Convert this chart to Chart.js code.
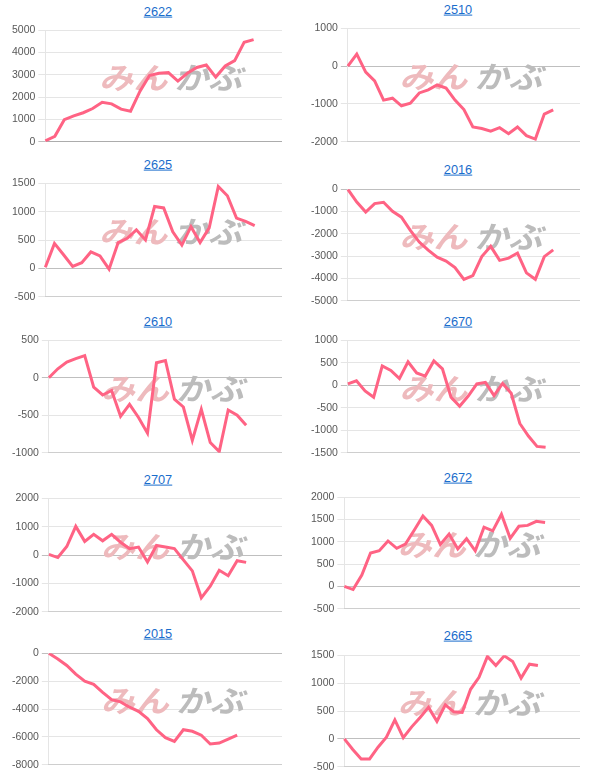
<!DOCTYPE html>
<html><head><meta charset="utf-8">
<script src="https://cdn.jsdelivr.net/npm/chart.js@4/dist/chart.umd.min.js"></script>
<style>
html,body{margin:0;padding:0;background:#fff;width:600px;height:780px;overflow:hidden;}
a.t{position:absolute;font-family:"Liberation Sans",Arial,sans-serif;font-size:12.8px;color:#1a6dcc;text-decoration:underline;transform:translate(-50%,-50%);white-space:nowrap;line-height:1;}
canvas{position:absolute;}
</style></head><body>
<script>
// ---- data ----
const codes = ['2622','2510','2625','2016','2610','2670','2707','2672','2015','2665'];
const v2622 = [40,240,990,1160,1300,1490,1770,1700,1460,1370,2270,2970,3070,3100,2720,3070,3330,3440,2900,3400,3640,4460,4580];
const v2510 = [0,320,-160,-390,-900,-850,-1050,-980,-710,-630,-500,-580,-900,-1150,-1610,-1650,-1720,-1630,-1790,-1610,-1840,-1930,-1270,-1160];
const v2625 = [20,440,240,35,100,290,220,-15,455,530,680,500,1090,1065,645,410,735,455,715,1445,1280,885,830,755];
const v2016 = [0,-570,-1020,-640,-580,-990,-1250,-1840,-2370,-2730,-3050,-3220,-3510,-4040,-3870,-3020,-2560,-3190,-3090,-2860,-3750,-4040,-3020,-2720];
const v2610 = [0,120,210,255,295,-125,-230,-170,-515,-355,-530,-740,200,230,-285,-390,-835,-420,-865,-985,-430,-500,-635];
const v2670 = [30,100,-125,-265,430,330,150,520,275,205,540,365,-265,-465,-240,30,65,-230,40,-180,-850,-1130,-1360,-1380];
const v2707 = [20,-90,300,1010,480,730,500,730,450,220,280,-250,335,280,225,-170,-560,-1510,-1100,-540,-730,-200,-260];
const v2672 = [0,-70,255,750,800,1020,855,950,1260,1580,1370,940,1175,840,1070,800,1330,1245,1620,1080,1350,1370,1460,1435];
const v2015 = [0,-410,-870,-1500,-2000,-2230,-2800,-3330,-3490,-3870,-4170,-4690,-5490,-6060,-6330,-5490,-5600,-5880,-6510,-6450,-6170,-5880];
const v2665 = [0,-190,-360,-360,-150,30,340,20,215,385,565,315,610,485,475,890,1105,1480,1315,1490,1390,1090,1340,1315];
const series = [v2622,v2510,v2625,v2016,v2610,v2670,v2707,v2672,v2015,v2665];
const labelCounts = [26,27,27,27,27,28,27,28,27,29];
const yMin = [0,-2000,-500,-5000,-1000,-1500,-2000,-500,-8000,-500];
const yMax = [5000,1000,1500,0,500,1000,2000,2000,0,1500];
const yStep = [1000,1000,500,1000,500,500,1000,500,2000,500];

// ---- layout (plot area top/bottom, title centre) ----
const plotTop    = [27.3,25,180,186.7,337.3,337.3,495,494.3,650.7,652.3];
const plotBottom = [145,144,299,304.3,456,456,614,611.7,767.7,770];
const titleY     = [11.7,10,165,170,322,322,480,478,634,636];
const colLeft = [9,308], colWidth = [273,272], colTitleX = [158,458];

const watermark = {
  id:'wm',
  beforeDatasetsDraw(chart){
    const {ctx, chartArea:a} = chart;
    const cx = (a.left+a.right)/2 + 10, cy = (a.top+a.bottom)/2 - 8;
    ctx.save();
    ctx.font = 'bold 30px "Noto Sans CJK JP"';
    ctx.textBaseline = 'middle';
    const t1 = 'みん', t2 = 'かぶ', gap = 6;
    const w1 = ctx.measureText(t1).width, w2 = ctx.measureText(t2).width;
    const total = w1 + gap + w2;
    ctx.translate(cx, cy);
    ctx.transform(143/total, 0, -0.25, 1, 0, 0);
    ctx.fillStyle = 'rgb(238,186,189)';
    ctx.fillText(t1, -total/2, 0);
    ctx.fillStyle = 'rgb(188,188,188)';
    ctx.fillText(t2, -total/2 + w1 + gap, 0);
    ctx.restore();
  }
};

codes.forEach((code, i) => {
  const col = i % 2;
  const a = document.createElement('a');
  a.className = 't'; a.href = '#'; a.textContent = code;
  a.style.left = colTitleX[col] + 'px'; a.style.top = titleY[i] + 'px';
  document.body.appendChild(a);

  const pad = 6.3;
  const cv = document.createElement('canvas');
  const h = Math.round(plotBottom[i] - plotTop[i] + 2*pad);
  cv.width = colWidth[col]; cv.height = h;
  cv.style.left = colLeft[col] + 'px';
  cv.style.top = (plotTop[i] - pad) + 'px';
  document.body.appendChild(cv);

  const labels = Array.from({length: labelCounts[i]}, (_, k) => String(k + 1));
  new Chart(cv, {
    type: 'line',
    data: { labels, datasets: [{ data: series[i], borderColor: 'rgb(255,99,132)', backgroundColor: 'rgb(255,99,132)', borderWidth: 3, pointRadius: 0, fill: false, tension: 0 }] },
    plugins: [watermark],
    options: {
      responsive: false, animation: false,
      layout: { padding: 0 },
      plugins: { legend: { display: false }, tooltip: { enabled: false }, title: { display: false } },
      scales: {
        x: { ticks: { display: false }, grid: { display: false, drawTicks: false }, border: { display: true, color: 'rgba(0,0,0,0.1)' } },
        y: {
          min: yMin[i], max: yMax[i],
          ticks: { stepSize: yStep[i], color: '#585858', font: { family: '"Liberation Sans", Arial, sans-serif', size: 10.5 }, callback: v => String(v) },
          grid: { color: c => (c.tick && c.tick.value === 0) ? 'rgba(0,0,0,0.25)' : 'rgba(0,0,0,0.1)', tickLength: 7 },
          border: { display: true, color: 'rgba(0,0,0,0.1)' }
        }
      }
    }
  });
});
</script>
</body></html>
